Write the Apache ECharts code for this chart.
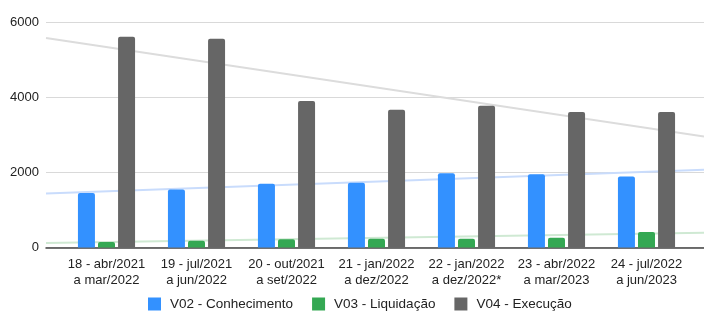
<!DOCTYPE html>
<html>
<head>
<meta charset="utf-8">
<script src="https://cdn.jsdelivr.net/npm/echarts@6/dist/echarts.min.js"></script>
<style>
  html, body { margin: 0; padding: 0; background: #fff; }
  #chart { width: 704px; height: 313px; }
</style>
</head>
<body>
<div id="chart"></div>
<script>
const categories = [
  '18 - abr/2021\na mar/2022',
  '19 - jul/2021\na jun/2022',
  '20 - out/2021\na set/2022',
  '21 - jan/2022\na dez/2022',
  '22 - jan/2022\na dez/2022*',
  '23 - abr/2022\na mar/2023',
  '24 - jul/2022\na jun/2023'
]
const conhecimento = [1453, 1541, 1693, 1720, 1978, 1952, 1888]
const liquidacao = [147, 181, 219, 235, 235, 261, 413]
const execucao = [5605, 5552, 3899, 3667, 3773, 3605, 3605]

// trend lines (left edge, right edge of the plot)
const trendX = [-0.672, 6.639]
const trendConhecimento = [1435, 2067]
const trendLiquidacao = [120, 395]
const trendExecucao = [5573, 2955]

const yTicks = { min: 0, max: 6000, interval: 2000 }

const font = 'Liberation Sans, Arial, sans-serif'
const colors = ['#3391ff', '#34a853', '#666666']
const trendColors = ['#c9dcfc', '#cfe9d3', '#dcdcdc']

const chart = echarts.init(document.getElementById('chart'))

function pairs(xs, ys) {
  return xs.map((x, i) => [x, ys[i]])
}

const barBase = {
  type: 'bar',
  xAxisIndex: 0,
  yAxisIndex: 0,
  barWidth: 17,
  barGap: '18%',
  z: 3,
  itemStyle: { borderRadius: [2, 2, 0, 0] }
}

const trendBase = {
  type: 'line',
  xAxisIndex: 1,
  yAxisIndex: 1,
  symbol: 'none',
  silent: true,
  z: 1
}

chart.setOption({
  animation: false,
  textStyle: { fontFamily: font },
  color: colors,
  legend: {
    bottom: -3,
    left: 143,
    itemWidth: 13,
    itemHeight: 13,
    itemGap: 19,
    icon: 'rect',
    textStyle: { fontSize: 13.5, color: '#222', fontFamily: font, padding: [0, 0, 0, 4] },
    data: ['V02 - Conhecimento', 'V03 - Liquidação', 'V04 - Execução']
  },
  grid: [
    { left: 61.5, right: 12.5, top: 22, bottom: 65.5 },
    { left: 46, right: 0, top: 22, bottom: 65.5 }
  ],
  xAxis: [
    {
      type: 'category',
      gridIndex: 0,
      data: categories,
      axisLine: { show: false },
      axisTick: { show: false },
      axisLabel: {
        fontSize: 13,
        color: '#222',
        lineHeight: 16,
        margin: 9,
        interval: 0,
        fontFamily: font
      }
    },
    {
      type: 'value',
      gridIndex: 1,
      min: trendX[0],
      max: trendX[1],
      axisLine: { show: true, onZero: false, lineStyle: { color: '#444', width: 1.5 } },
      axisTick: { show: false },
      axisLabel: { show: false },
      splitLine: { show: false }
    }
  ],
  yAxis: [
    {
      type: 'value',
      gridIndex: 0,
      min: yTicks.min,
      max: yTicks.max,
      interval: yTicks.interval,
      axisLabel: { show: false },
      axisLine: { show: false },
      axisTick: { show: false },
      splitLine: { show: false }
    },
    {
      type: 'value',
      gridIndex: 1,
      min: yTicks.min,
      max: yTicks.max,
      interval: yTicks.interval,
      axisLine: { show: false },
      axisTick: { show: false },
      axisLabel: {
        fontSize: 13,
        color: '#222',
        margin: 7,
        fontFamily: font,
        formatter: v => String(v)
      },
      splitLine: { lineStyle: { color: '#d9d9d9', width: 1 } }
    }
  ],
  series: [
    Object.assign({}, barBase, { name: 'V02 - Conhecimento', data: conhecimento }),
    Object.assign({}, barBase, { name: 'V03 - Liquidação', data: liquidacao }),
    Object.assign({}, barBase, { name: 'V04 - Execução', data: execucao }),
    Object.assign({}, trendBase, {
      name: 'trend-conhecimento',
      data: pairs(trendX, trendConhecimento),
      lineStyle: { color: trendColors[0], width: 2 }
    }),
    Object.assign({}, trendBase, {
      name: 'trend-liquidacao',
      data: pairs(trendX, trendLiquidacao),
      lineStyle: { color: trendColors[1], width: 2 }
    }),
    Object.assign({}, trendBase, {
      name: 'trend-execucao',
      data: pairs(trendX, trendExecucao),
      lineStyle: { color: trendColors[2], width: 2 }
    })
  ]
})
</script>
</body>
</html>
